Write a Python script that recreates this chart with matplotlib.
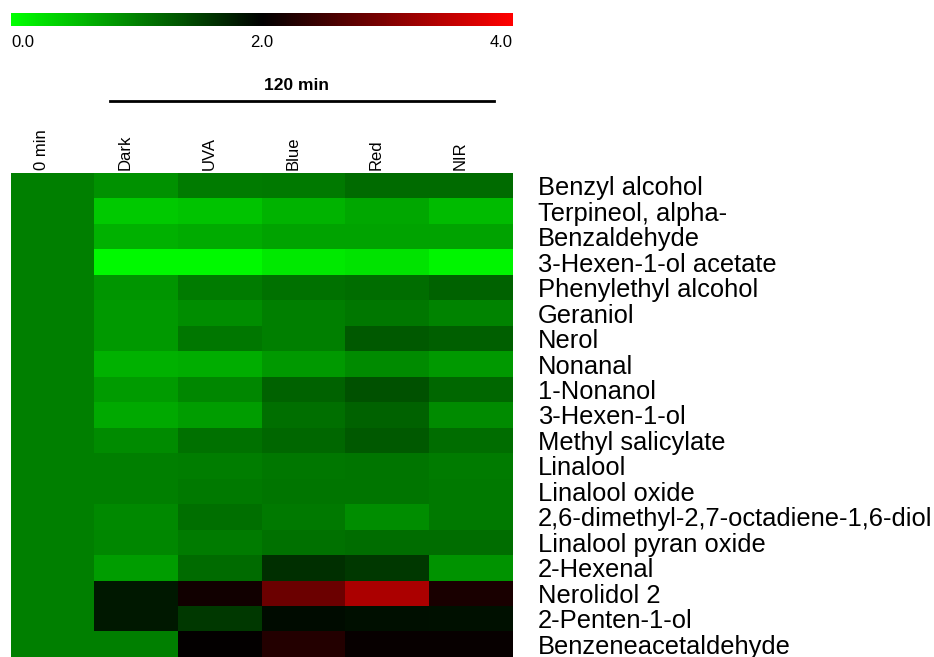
import numpy as np
import matplotlib
matplotlib.use('Agg')
import matplotlib.pyplot as plt
from matplotlib.colors import LinearSegmentedColormap
import matplotlib.transforms as mtransforms

plt.rcParams['font.family'] = ['Liberation Sans', 'DejaVu Sans']

conditions = ['0 min', 'Dark', 'UVA', 'Blue', 'Red', 'NIR']
compounds = ['Benzyl alcohol', 'Terpineol, alpha-', 'Benzaldehyde', '3-Hexen-1-ol acetate',
             'Phenylethyl alcohol', 'Geraniol', 'Nerol', 'Nonanal', '1-Nonanol',
             '3-Hexen-1-ol', 'Methyl salicylate', 'Linalool', 'Linalool oxide',
             '2,6-dimethyl-2,7-octadiene-1,6-diol', 'Linalool pyran oxide', '2-Hexenal',
             'Nerolidol 2', '2-Penten-1-ol', 'Benzeneacetaldehyde']

# relative abundance, one list per condition (rows follow compounds)
t0 = [1.0] * 19
dark = [0.87, 0.43, 0.62, 0.05, 0.83, 0.81, 0.81, 0.62, 0.79, 0.68,
        0.92, 1.00, 1.00, 0.93, 0.95, 0.78, 1.80, 1.80, 1.00]
uva = [1.04, 0.48, 0.67, 0.05, 1.04, 0.90, 1.07, 0.65, 0.95, 0.78,
       1.11, 1.03, 1.06, 1.14, 1.04, 1.17, 2.14, 1.55, 2.03]
blue = [1.06, 0.60, 0.73, 0.18, 1.11, 1.00, 1.00, 0.81, 1.23, 1.14,
        1.20, 1.07, 1.09, 1.06, 1.11, 1.64, 2.83, 1.91, 2.27]
red = [1.17, 0.70, 0.73, 0.23, 1.15, 1.07, 1.31, 0.92, 1.37, 1.23,
       1.31, 1.09, 1.09, 0.90, 1.15, 1.55, 3.33, 1.89, 2.06]
nir = [1.17, 0.54, 0.73, 0.09, 1.23, 0.98, 1.26, 0.81, 1.20, 0.92,
       1.15, 1.04, 1.06, 1.06, 1.15, 0.85, 2.19, 1.87, 2.06]

data = np.array([t0, dark, uva, blue, red, nir]).T

cmap = LinearSegmentedColormap.from_list('gbr', ['#00ff00', '#000000', '#ff0000'])

W, H = 934, 657
fig = plt.figure(figsize=(W / 100, H / 100), dpi=100)

# heatmap
ax = fig.add_axes([11 / W, 0, 502 / W, 484 / H])
im = ax.imshow(data, cmap=cmap, vmin=0, vmax=4, aspect='auto', interpolation='nearest')
ax.set_xticks([])
ax.yaxis.tick_right()
ax.set_yticks(range(len(compounds)))
ax.set_yticklabels(compounds, fontsize=18.4)
ax.tick_params(axis='y', length=0, pad=18)
for s in ax.spines.values():
    s.set_visible(False)

trans = mtransforms.blended_transform_factory(ax.transData, ax.transAxes)
for j, c in enumerate(conditions):
    ax.text(j - 0.13, 1.006, c, rotation=90, ha='center', va='bottom',
            fontsize=12, transform=trans)

# group bracket for the 120 min samples
fig.add_artist(plt.Line2D([110 / W, 494 / W], [1 - 101 / H] * 2, color='black', lw=2))
fig.text(297 / W, 1 - 85 / H, '120 min', ha='center', va='center',
         fontsize=12.5, fontweight='bold')

# colour scale
cax = fig.add_axes([11 / W, 1 - 26 / H, 502 / W, 13 / H])
cb = fig.colorbar(im, cax=cax, orientation='horizontal')
cb.outline.set_visible(False)
cax.set_xticks([])
for v, ha in [(0, 'left'), (2, 'center'), (4, 'right')]:
    cax.text(v, -0.7, f'{v:.1f}', ha=ha, va='top', fontsize=12,
             transform=mtransforms.blended_transform_factory(cax.transData, cax.transAxes))

fig.savefig('out.png', dpi=100)
